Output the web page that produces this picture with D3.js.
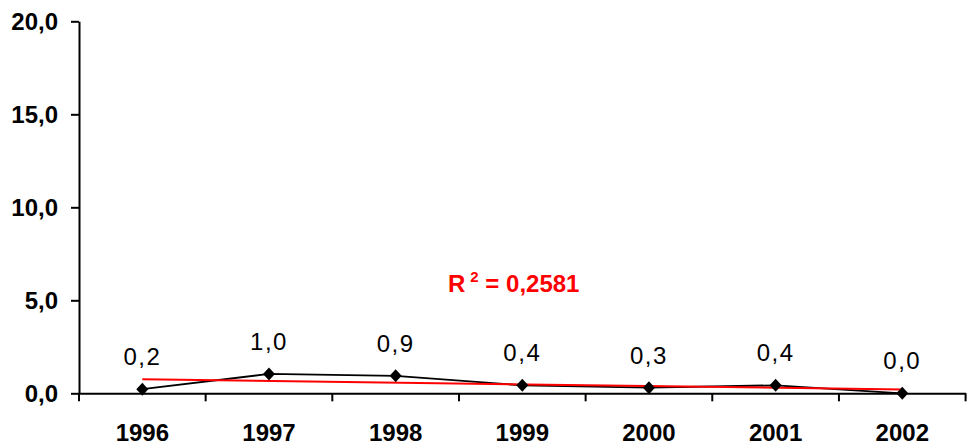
<!DOCTYPE html>
<html>
<head>
<meta charset="utf-8">
<script src="https://cdn.jsdelivr.net/npm/d3@7"></script>
<style>
html,body{margin:0;padding:0;background:#fff;}
svg{display:block;font-family:"Liberation Sans",Arial,sans-serif;}
</style>
</head>
<body>
<svg id="chart" width="972" height="446"></svg>
<script>
const years = ["1996","1997","1998","1999","2000","2001","2002"];
const values = [0.22, 1.04, 0.94, 0.43, 0.30, 0.43, 0.0];
const yTicks = [0, 5, 10, 15, 20];
const r2Label = "0,2581";

(function () {
const svg = d3.select("#chart");
const mLeft = 79, mRight = 965.6, mTop = 21.3, mBottom = 393.3;

const x = d3.scaleBand().domain(years).range([mLeft, mRight]);
const y = d3.scaleLinear().domain([0, 20]).range([mBottom, mTop]);
const fmt = v => d3.format(".1f")(v).replace(".", ",");

// y axis
const yAxis = svg.append("g").attr("transform", `translate(${mLeft},0)`)
  .call(d3.axisLeft(y).tickValues(yTicks).tickSize(8).tickSizeOuter(0).tickFormat(fmt));
yAxis.select(".domain").attr("stroke", "#000").attr("stroke-width", 2);
yAxis.selectAll(".tick line").attr("stroke", "#000").attr("stroke-width", 2);
yAxis.selectAll(".tick text").attr("x", -21).attr("dy", "0.35em")
  .attr("font-size", 24).attr("font-weight", "bold").attr("fill", "#000")
  .attr("font-family", "Liberation Sans, Arial, sans-serif");

// x axis
const xAxis = svg.append("g").attr("transform", `translate(0,${mBottom})`)
  .call(d3.axisBottom(x).tickSize(0).tickSizeOuter(0));
xAxis.select(".domain").attr("stroke", "#000").attr("stroke-width", 2);
xAxis.selectAll(".tick text").attr("y", 48).attr("dy", 0)
  .attr("font-size", 24).attr("font-weight", "bold").attr("fill", "#000")
  .attr("font-family", "Liberation Sans, Arial, sans-serif");
// boundary ticks
const bounds = years.map(d => x(d)).concat([x(years[years.length-1]) + x.bandwidth()]);
svg.append("g").selectAll("line").data(bounds).join("line")
  .attr("x1", d => d).attr("x2", d => d)
  .attr("y1", mBottom).attr("y2", mBottom + 8)
  .attr("stroke", "#000").attr("stroke-width", 2);

const cx = d => x(d) + x.bandwidth() / 2;

// data line
const pts = years.map((d, i) => [cx(d), y(values[i])]);
svg.append("path").attr("d", d3.line()(pts))
  .attr("fill", "none").attr("stroke", "#000").attr("stroke-width", 1.8);

// linear trend
const n = values.length;
const xs = values.map((_, i) => i + 1);
const mx = d3.mean(xs), my = d3.mean(values);
const sxy = d3.sum(xs, (xi, i) => (xi - mx) * (values[i] - my));
const sxx = d3.sum(xs, xi => (xi - mx) ** 2);
const slope = sxy / sxx, icpt = my - slope * mx;
svg.append("line")
  .attr("x1", cx(years[0])).attr("y1", y(icpt + slope * 1))
  .attr("x2", cx(years[n-1])).attr("y2", y(icpt + slope * n))
  .attr("stroke", "#ff0000").attr("stroke-width", 2);

// markers
svg.append("g").selectAll("path").data(years).join("path")
  .attr("transform", (d, i) => `translate(${cx(d)},${y(values[i])})`)
  .attr("d", "M0,-6.5L6,0L0,6.5L-6,0Z")
  .attr("fill", "#000");

// data labels
svg.append("g").selectAll("text").data(years).join("text")
  .attr("x", d => cx(d))
  .attr("y", (d, i) => y(values[i]) - 24)
  .attr("text-anchor", "middle")
  .attr("font-size", 24).attr("letter-spacing", 1.5).attr("fill", "#000")
  .text((d, i) => fmt(values[i]));

// R² label
const r2 = svg.append("text").attr("x", 448).attr("y", 292)
  .attr("font-size", 24).attr("font-weight", "bold").attr("fill", "#ff0000");
r2.append("tspan").text("R");
r2.append("tspan").attr("font-size", 15).attr("dy", -10).attr("dx", 5).text("2");
r2.append("tspan").attr("dy", 10).text(" = " + r2Label);
})();
</script>
</body>
</html>
